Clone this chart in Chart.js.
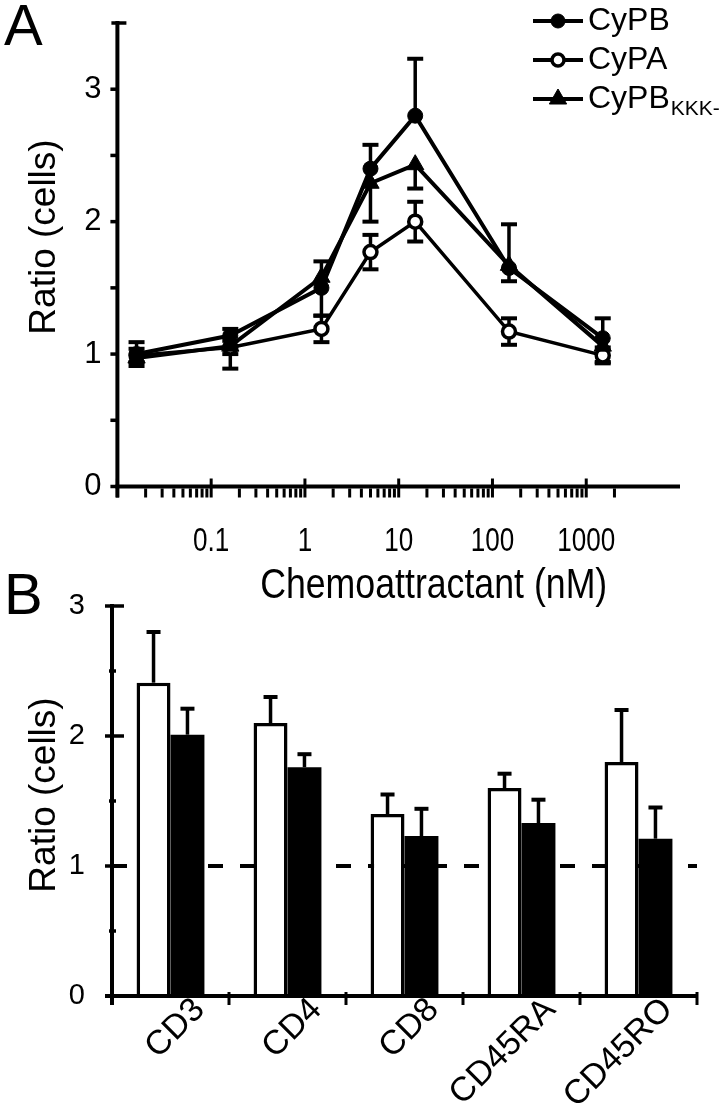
<!DOCTYPE html>
<html>
<head>
<meta charset="utf-8">
<script src="https://cdn.jsdelivr.net/npm/chart.js@4.4.0/dist/chart.umd.min.js"></script>
<style>
  html, body { margin: 0; padding: 0; background: #ffffff; }
  #wrap { position: relative; width: 725px; height: 1111px; overflow: hidden; background: #fff; }
  #ca { position: absolute; left: 0; top: 0; }
  #cb { position: absolute; left: 0; top: 560px; }
</style>
</head>
<body>
<div id="wrap">
  <canvas id="ca" width="725" height="620"></canvas>
  <canvas id="cb" width="725" height="551"></canvas>
</div>
<script>
// ---------------- DATA : panel A ----------------
const concentrations = [0.016, 0.16, 1.5, 5, 15, 150, 1500];   // nM
const cypb        = [1.00, 1.14, 1.50, 2.40, 2.80, 1.65, 1.12];
const cypbErrUp   = [0.09, 0.05, 0.20, 0.18, 0.43, 0.33, 0.15];
const cypa        = [0.99, 1.05, 1.19, 1.77, 2.00, 1.17, 0.99];
const cypaErr     = [0.05, 0.05, 0.10, 0.13, 0.15, 0.10, 0.06];
const cypbKKK     = [0.97, 1.06, 1.58, 2.29, 2.43, 1.67, 1.06];
const cypbKKKErrDown = [0.06, 0.17, 0.29, 0.29, 0.18, 0.12, 0.12];
const seriesNames = ['CyPB', 'CyPA', 'CyPB'];
const seriesSubscripts = ['', '', 'KKK-'];
const xTickLabelsA = [0.1, 1, 10, 100, 1000];
const yTickLabelsA = [0, 1, 2, 3];
const yTitle = 'Ratio (cells)';
const xTitleA = 'Chemoattractant (nM)';

// ---------------- DATA : panel B ----------------
const categories = ['CD3', 'CD4', 'CD8', 'CD45RA', 'CD45RO'];
const whiteVals = [2.41, 2.10, 1.40, 1.60, 1.80];
const whiteErr  = [0.39, 0.20, 0.15, 0.11, 0.40];
const blackVals = [2.01, 1.76, 1.23, 1.33, 1.21];
const blackErr  = [0.20, 0.10, 0.21, 0.18, 0.24];
const yTickLabelsB = [0, 1, 2, 3];
const referenceLevel = 1;

// ---------------- styling ----------------
const FONT = "'Liberation Sans', Arial, Helvetica, sans-serif";
Chart.defaults.font.family = FONT;
Chart.defaults.color = '#000';

const zerosA = concentrations.map(() => 0);

// ---- log-axis tick positions (1..9 x decade, plus 2000) ----
const xTickValuesA = [];
for (let e = -2; e <= 2; e++) {
  for (let m = 1; m <= 9; m++) xTickValuesA.push(+(m * Math.pow(10, e)).toPrecision(3));
}
xTickValuesA.push(1000, 2000);

function drawSegment(ctx, x1, y1, x2, y2) {
  ctx.beginPath(); ctx.moveTo(x1, y1); ctx.lineTo(x2, y2); ctx.stroke();
}
function condensedText(ctx, text, x, y, sx) {
  ctx.save();
  ctx.translate(x, y);
  ctx.scale(sx, 1);
  ctx.fillText(text, 0, 0);
  ctx.restore();
}

// ================= PANEL A =================
const pluginA = {
  id: 'panelA',
  beforeDatasetsDraw(chart) {
    const ctx = chart.ctx, xs = chart.scales.x, ys = chart.scales.y;
    ctx.save();
    ctx.strokeStyle = '#000';
    ctx.lineCap = 'butt';
    ctx.lineWidth = 4;
    const x0 = xs.left, y0 = ys.getPixelForValue(0);
    drawSegment(ctx, x0, ys.getPixelForValue(3.5) - 2, x0, y0 + 11);
    drawSegment(ctx, x0 - 2, y0, xs.right, y0);
    ctx.lineWidth = 3.5;
    ys.ticks.forEach(t => {
      const y = ys.getPixelForValue(t.value);
      if (t.value === 3.5) drawSegment(ctx, x0 - 6, y, x0 + 9, y);
      else drawSegment(ctx, x0 - 7, y, x0, y);
    });
    ctx.lineWidth = 3;
    xs.ticks.forEach(t => {
      const x = xs.getPixelForValue(t.value);
      const lg = Math.log10(t.value);
      const major = Math.abs(lg - Math.round(lg)) < 1e-6;
      if (major) drawSegment(ctx, x, y0 - 8, x, y0 + 11);
      else drawSegment(ctx, x, y0 + 2, x, y0 + 11);
    });
    // error bars
    chart.data.datasets.forEach((ds, di) => {
      const meta = chart.getDatasetMeta(di);
      meta.data.forEach((pt, i) => {
        const v = ds.data[i].y;
        const up = ds.errUp[i], dn = ds.errDown[i];
        const yT = ys.getPixelForValue(v + up), yB = ys.getPixelForValue(v - dn);
        ctx.lineWidth = 3.5;
        drawSegment(ctx, pt.x, yT, pt.x, yB);
        ctx.lineWidth = 4;
        if (up > 0) drawSegment(ctx, pt.x - 8, yT, pt.x + 8, yT);
        if (dn > 0) drawSegment(ctx, pt.x - 8, yB, pt.x + 8, yB);
      });
    });
    ctx.restore();
  },
  afterDraw(chart) {
    const ctx = chart.ctx, xs = chart.scales.x, ys = chart.scales.y;
    ctx.save();
    ctx.fillStyle = '#000';
    ctx.font = '58px ' + FONT;
    ctx.textAlign = 'left'; ctx.textBaseline = 'alphabetic';
    ctx.fillText('A', 4, 45);
    // x tick labels (condensed face)
    const y0 = ys.getPixelForValue(0);
    ctx.font = '33px ' + FONT;
    ctx.textAlign = 'center'; ctx.textBaseline = 'alphabetic';
    xTickLabelsA.forEach(v => {
      condensedText(ctx, String(v), xs.getPixelForValue(v), y0 + 64, 0.79);
    });
    // y title
    ctx.save();
    ctx.translate(45, 237);
    ctx.rotate(-Math.PI / 2);
    ctx.font = '37px ' + FONT;
    ctx.textAlign = 'center'; ctx.textBaseline = 'middle';
    ctx.fillText(yTitle, 0, 0);
    ctx.restore();
    // x title
    ctx.font = '43px ' + FONT;
    ctx.textAlign = 'center'; ctx.textBaseline = 'alphabetic';
    condensedText(ctx, xTitleA, (xs.left + xs.right) / 2 + 35, 598, 0.83);
    // legend
    const lx0 = 533, lx1 = 583, tx = 588, rowY = [21, 60, 99];
    [0, 1, 2].forEach(i => {
      const ds = chart.data.datasets[i];
      const y = rowY[i];
      ctx.strokeStyle = '#000'; ctx.lineWidth = 4;
      drawSegment(ctx, lx0, y, lx1, y);
      ctx.fillStyle = ds.pointBackgroundColor; ctx.strokeStyle = '#000';
      ctx.lineWidth = ds.pointBorderWidth;
      Chart.helpers.drawPoint(ctx, {
        pointStyle: ds.pointStyle, radius: ds.legendRadius,
        borderWidth: ds.pointBorderWidth, rotation: 0
      }, (lx0 + lx1) / 2, y);
      ctx.fillStyle = '#000';
      ctx.font = '32px ' + FONT;
      ctx.textAlign = 'left'; ctx.textBaseline = 'middle';
      ctx.fillText(seriesNames[i], tx, y);
      if (seriesSubscripts[i]) {
        const w = ctx.measureText(seriesNames[i]).width;
        ctx.font = '21px ' + FONT;
        ctx.fillText(seriesSubscripts[i], tx + w + 1, y + 10);
      }
    });
    ctx.restore();
  }
};

const chartA = new Chart(document.getElementById('ca'), {
  type: 'line',
  data: {
    datasets: [
      {
        label: seriesNames[0], order: 0,
        data: concentrations.map((x, i) => ({ x: x, y: cypb[i] })),
        borderColor: '#000', borderWidth: 4,
        pointStyle: 'circle', pointRadius: 7.5, legendRadius: 7,
        pointBackgroundColor: '#000', pointBorderColor: '#000', pointBorderWidth: 1,
        errUp: cypbErrUp, errDown: zerosA
      },
      {
        label: seriesNames[1], order: 2,
        data: concentrations.map((x, i) => ({ x: x, y: cypa[i] })),
        borderColor: '#000', borderWidth: 3.5,
        pointStyle: 'circle', pointRadius: 6.5, legendRadius: 6,
        pointBackgroundColor: '#fff', pointBorderColor: '#000', pointBorderWidth: 3.5,
        errUp: cypaErr, errDown: cypaErr
      },
      {
        label: seriesNames[2] + seriesSubscripts[2], order: 1,
        data: concentrations.map((x, i) => ({ x: x, y: cypbKKK[i] })),
        borderColor: '#000', borderWidth: 4,
        pointStyle: 'triangle', pointRadius: 10, legendRadius: 10,
        pointBackgroundColor: '#000', pointBorderColor: '#000', pointBorderWidth: 1,
        errUp: zerosA, errDown: cypbKKKErrDown
      }
    ]
  },
  options: {
    responsive: false, animation: false, devicePixelRatio: 1,
    layout: { padding: { top: 23, right: 45, left: 0, bottom: 0 } },
    plugins: { legend: { display: false }, tooltip: { enabled: false } },
    elements: { line: { tension: 0 } },
    scales: {
      x: {
        type: 'logarithmic', min: 0.01, max: 10000,
        border: { display: false },
        grid: { display: false, drawTicks: false },
        afterBuildTicks(scale) {
          scale.ticks = xTickValuesA.map(v => ({ value: v }));
        },
        ticks: {
          autoSkip: false, maxRotation: 0, minRotation: 0, padding: 34,
          font: { size: 30 }, color: '#000',
          callback() { return ''; }
        },
        afterFit(scale) { scale.height = 133.5; scale.paddingLeft = 0; scale.paddingRight = 0; }
      },
      y: {
        min: 0, max: 3.5,
        border: { display: false },
        grid: { display: false, drawTicks: false },
        ticks: {
          stepSize: 0.5, padding: 16,
          font: { size: 31, family: FONT }, color: '#000',
          callback(v) { return yTickLabelsA.indexOf(v) >= 0 ? String(v) : ''; }
        },
        afterFit(scale) { scale.width = 117.4; scale.paddingTop = 0; scale.paddingBottom = 0; }
      }
    }
  },
  plugins: [pluginA]
});

// ================= PANEL B =================
const pluginB = {
  id: 'panelB',
  beforeDatasetsDraw(chart) {
    const ctx = chart.ctx, xs = chart.scales.x, ys = chart.scales.y;
    ctx.save();
    ctx.strokeStyle = '#000';
    ctx.lineWidth = 4;
    ctx.setLineDash([15, 17]);
    const yr = ys.getPixelForValue(referenceLevel);
    drawSegment(ctx, xs.left, yr, xs.right, yr);
    ctx.setLineDash([]);
    ctx.restore();
  },
  afterDatasetsDraw(chart) {
    const ctx = chart.ctx, xs = chart.scales.x, ys = chart.scales.y;
    ctx.save();
    ctx.strokeStyle = '#000';
    const x0 = xs.left, y0 = ys.getPixelForValue(0);
    chart.data.datasets.forEach((ds, di) => {
      const meta = chart.getDatasetMeta(di);
      meta.data.forEach((bar, i) => {
        const yT = ys.getPixelForValue(ds.data[i] + ds.errUp[i]);
        const yB = ys.getPixelForValue(ds.data[i]);
        ctx.lineWidth = 3.5;
        drawSegment(ctx, bar.x, yT, bar.x, yB);
        ctx.lineWidth = 4;
        drawSegment(ctx, bar.x - 7, yT, bar.x + 7, yT);
      });
    });
    ctx.lineWidth = 4;
    drawSegment(ctx, x0, ys.getPixelForValue(3) - 2, x0, y0 + 9);
    drawSegment(ctx, x0 - 7, y0, xs.right, y0);
    ctx.lineWidth = 3.5;
    ys.ticks.forEach(t => {
      const y = ys.getPixelForValue(t.value);
      if (Number.isInteger(t.value)) drawSegment(ctx, x0 - 7, y, x0 + 12, y);
      else drawSegment(ctx, x0 - 3, y, x0 + 4, y);
    });
    ctx.lineWidth = 3;
    for (let i = 0; i <= categories.length; i++) {
      const x = xs.getPixelForValue(i - 0.5);
      drawSegment(ctx, x, y0 - 4, x, y0 + 9);
    }
    ctx.restore();
  },
  afterDraw(chart) {
    const ctx = chart.ctx;
    ctx.save();
    ctx.fillStyle = '#000';
    ctx.font = '58px ' + FONT;
    ctx.textAlign = 'left'; ctx.textBaseline = 'alphabetic';
    ctx.fillText('B', 4, 54);
    ctx.translate(45, 235);
    ctx.rotate(-Math.PI / 2);
    ctx.font = '37px ' + FONT;
    ctx.textAlign = 'center'; ctx.textBaseline = 'middle';
    ctx.fillText(yTitle, 0, 0);
    ctx.restore();
  }
};

const chartB = new Chart(document.getElementById('cb'), {
  type: 'bar',
  data: {
    labels: categories,
    datasets: [
      {
        data: whiteVals, errUp: whiteErr,
        backgroundColor: '#fff', borderColor: '#000',
        borderWidth: { top: 3.5, left: 3.5, right: 3.5, bottom: 0 },
        borderSkipped: 'start'
      },
      {
        data: blackVals, errUp: blackErr,
        backgroundColor: '#000', borderColor: '#000', borderWidth: 0
      }
    ]
  },
  options: {
    responsive: false, animation: false, devicePixelRatio: 1,
    layout: { padding: { top: 46, right: 28, left: 0, bottom: 0 } },
    plugins: { legend: { display: false }, tooltip: { enabled: false } },
    datasets: { bar: { categoryPercentage: 0.58, barPercentage: 1.0 } },
    scales: {
      x: {
        border: { display: false },
        grid: { display: false, drawTicks: false },
        ticks: {
          autoSkip: false, maxRotation: 45, minRotation: 45,
          padding: -6, labelOffset: 29,
          font: { size: 34, family: FONT }, color: '#000'
        },
        afterFit(scale) { scale.height = 115; scale.paddingLeft = 0; scale.paddingRight = 0; }
      },
      y: {
        min: 0, max: 3,
        border: { display: false },
        grid: { display: false, drawTicks: false },
        ticks: {
          stepSize: 0.5, padding: 27,
          font: { size: 29, family: FONT }, color: '#000',
          callback(v) { return yTickLabelsB.indexOf(v) >= 0 ? String(v) : ''; }
        },
        afterFit(scale) { scale.width = 112; scale.paddingTop = 0; scale.paddingBottom = 0; }
      }
    }
  },
  plugins: [pluginB]
});
</script>
</body>
</html>
